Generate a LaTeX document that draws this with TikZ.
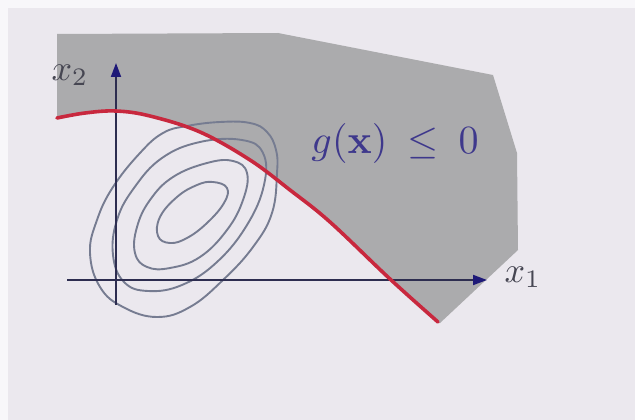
\documentclass[tikz,border=0pt]{standalone}
\usepackage{graphicx}
\usetikzlibrary{arrows.meta}
\definecolor{bgc}{RGB}{235,232,238}
\definecolor{edgec}{RGB}{248,247,250}
\definecolor{regionc}{RGB}{171,171,173}
\definecolor{curvec}{RGB}{200,40,62}
\definecolor{axisc}{RGB}{45,45,80}
\definecolor{tipc}{RGB}{30,25,120}
\definecolor{contc}{RGB}{118,124,145}
\definecolor{labelc}{RGB}{70,70,82}
\definecolor{textc}{RGB}{62,56,140}
\begin{document}
\begin{tikzpicture}[x=1pt,y=-1pt,
  axis/.style={axisc, line width=1.8pt, -{Triangle[length=14pt,width=10pt,color=tipc]}},
  contour/.style={contc, line width=1.9pt},
  boundary/.style={curvec, line width=3.6pt, line cap=round},
  axlabel/.style={labelc, inner sep=0pt},
  bigtext/.style={textc, inner sep=0pt}]
\useasboundingbox (0,0) rectangle (635,420);
\fill[edgec] (0,0) rectangle (635,420);
\fill[bgc] (8,8) rectangle (635,420);
% feasible region
\fill[regionc] plot[smooth, tension=0.6] coordinates {(57,118) (85,113) (116,111) (150,116) (200,132) (250,160) (290,190) (330,222) (390,279) (438,322)}
  -- (440,323) -- (518,250) -- (517,153) -- (493,75) -- (278,33) -- (57,34) -- cycle;
% contours
\draw[contour] plot[smooth cycle, tension=0.7] coordinates {(213,182) (227,188) (224,203) (207,223) (187,238) (170,243) (158,236) (160,217) (177,197) (197,185)};
\draw[contour] plot[smooth cycle, tension=0.7] coordinates {(207,163) (233,161) (247,173) (243,200) (227,230) (200,257) (170,268) (147,267) (135,253) (137,227) (150,200) (173,177)};
\draw[contour] plot[smooth cycle, tension=0.7] coordinates {(200,142) (242,140) (263,153) (264,185) (247,225) (217,262) (182,285) (148,291) (124,282) (113,255) (117,220) (134,188) (162,158)};
\draw[contour] plot[smooth cycle, tension=0.7] coordinates {(187,126) (220,122) (250,123) (267,132) (276,150) (277,173) (272,213) (253,247) (223,280) (190,307) (157,317) (123,307) (100,287) (90,253) (97,220) (113,187) (140,153) (163,133)};
% axes
\coordinate (ybot) at (116,305);
\coordinate (ytop) at (116,63);
\coordinate (xleft) at (67,280);
\coordinate (xright) at (487,280);
\draw[axis] (ybot) -- (ytop);
\draw[axis] (xleft) -- (xright);
% constraint boundary
\draw[boundary] plot[smooth, tension=0.6] coordinates {(57,118) (85,113) (116,111) (150,116) (200,132) (250,160) (290,190) (330,222) (390,279) (438,322)};
% labels
\node[axlabel] (lx2) at (70,75) {\scalebox{3.6}{$x_2$}};
\node[axlabel] (lx1) at (523,277) {\scalebox{3.6}{$x_1$}};
\node[bigtext] (lg) at (395,143) {\scalebox{4.0}{$g(\mathbf{x})\mskip4mu\le\mskip4mu 0$}};
\end{tikzpicture}
\end{document}
